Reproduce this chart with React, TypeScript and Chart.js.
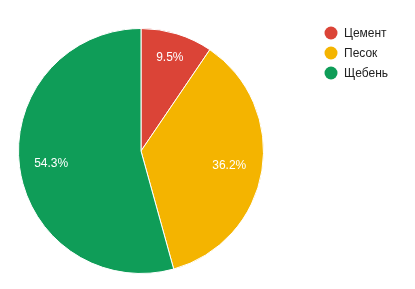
import React, { useEffect, useRef } from "react";
import { Chart, registerables } from "chart.js";

Chart.register(...registerables);

const categories = ["Цемент", "Песок", "Щебень"];
const values = [9.5, 36.2, 54.3];
const colors = ["#DB4437", "#F4B400", "#0F9D58"];
const labelRadius = [0.8, 0.73, 0.74];

const labelPlugin = {
  id: "sliceLabels",
  afterDatasetsDraw(chart: any) {
    const ctx = chart.ctx;
    const meta = chart.getDatasetMeta(0);
    const total = values.reduce((a, b) => a + b, 0);
    ctx.save();
    ctx.font = "12px Arial, 'Liberation Sans', sans-serif";
    ctx.fillStyle = "#ffffff";
    ctx.textAlign = "center";
    ctx.textBaseline = "middle";
    meta.data.forEach((arc: any, i: number) => {
      const mid = (arc.startAngle + arc.endAngle) / 2;
      const r = arc.outerRadius * labelRadius[i];
      const x = arc.x + Math.cos(mid) * r;
      const y = arc.y + Math.sin(mid) * r;
      ctx.fillText(((values[i] / total) * 100).toFixed(1) + "%", x, y);
    });
    // legend
    ctx.textAlign = "left";
    categories.forEach((c, i) => {
      const cy = 33 + i * 20;
      ctx.beginPath();
      ctx.arc(331, cy, 6.5, 0, Math.PI * 2);
      ctx.fillStyle = colors[i];
      ctx.fill();
      ctx.fillStyle = "#222222";
      ctx.fillText(c, 344, cy + 0.5);
    });
    ctx.restore();
  },
};

export default function App() {
  const ref = useRef<HTMLCanvasElement>(null);
  useEffect(() => {
    document.body.style.margin = "0";
    const chart = new Chart(ref.current!, {
      type: "pie",
      data: {
        labels: categories,
        datasets: [
          {
            data: values,
            backgroundColor: colors,
            borderColor: "#ffffff",
            borderWidth: 1,
          },
        ],
      },
      options: {
        animation: false,
        responsive: false,
        maintainAspectRatio: false,
        layout: { padding: { top: 28, bottom: 15, left: 18, right: 151 } },
        plugins: { legend: { display: false }, tooltip: { enabled: false } },
      },
      plugins: [labelPlugin],
    });
    return () => chart.destroy();
  }, []);
  return (
    <div style={{ position: "absolute", left: 0, top: 0, width: 415, height: 289, background: "#fff" }}>
      <canvas ref={ref} width={415} height={289} style={{ width: 415, height: 289 }} />
    </div>
  );
}
